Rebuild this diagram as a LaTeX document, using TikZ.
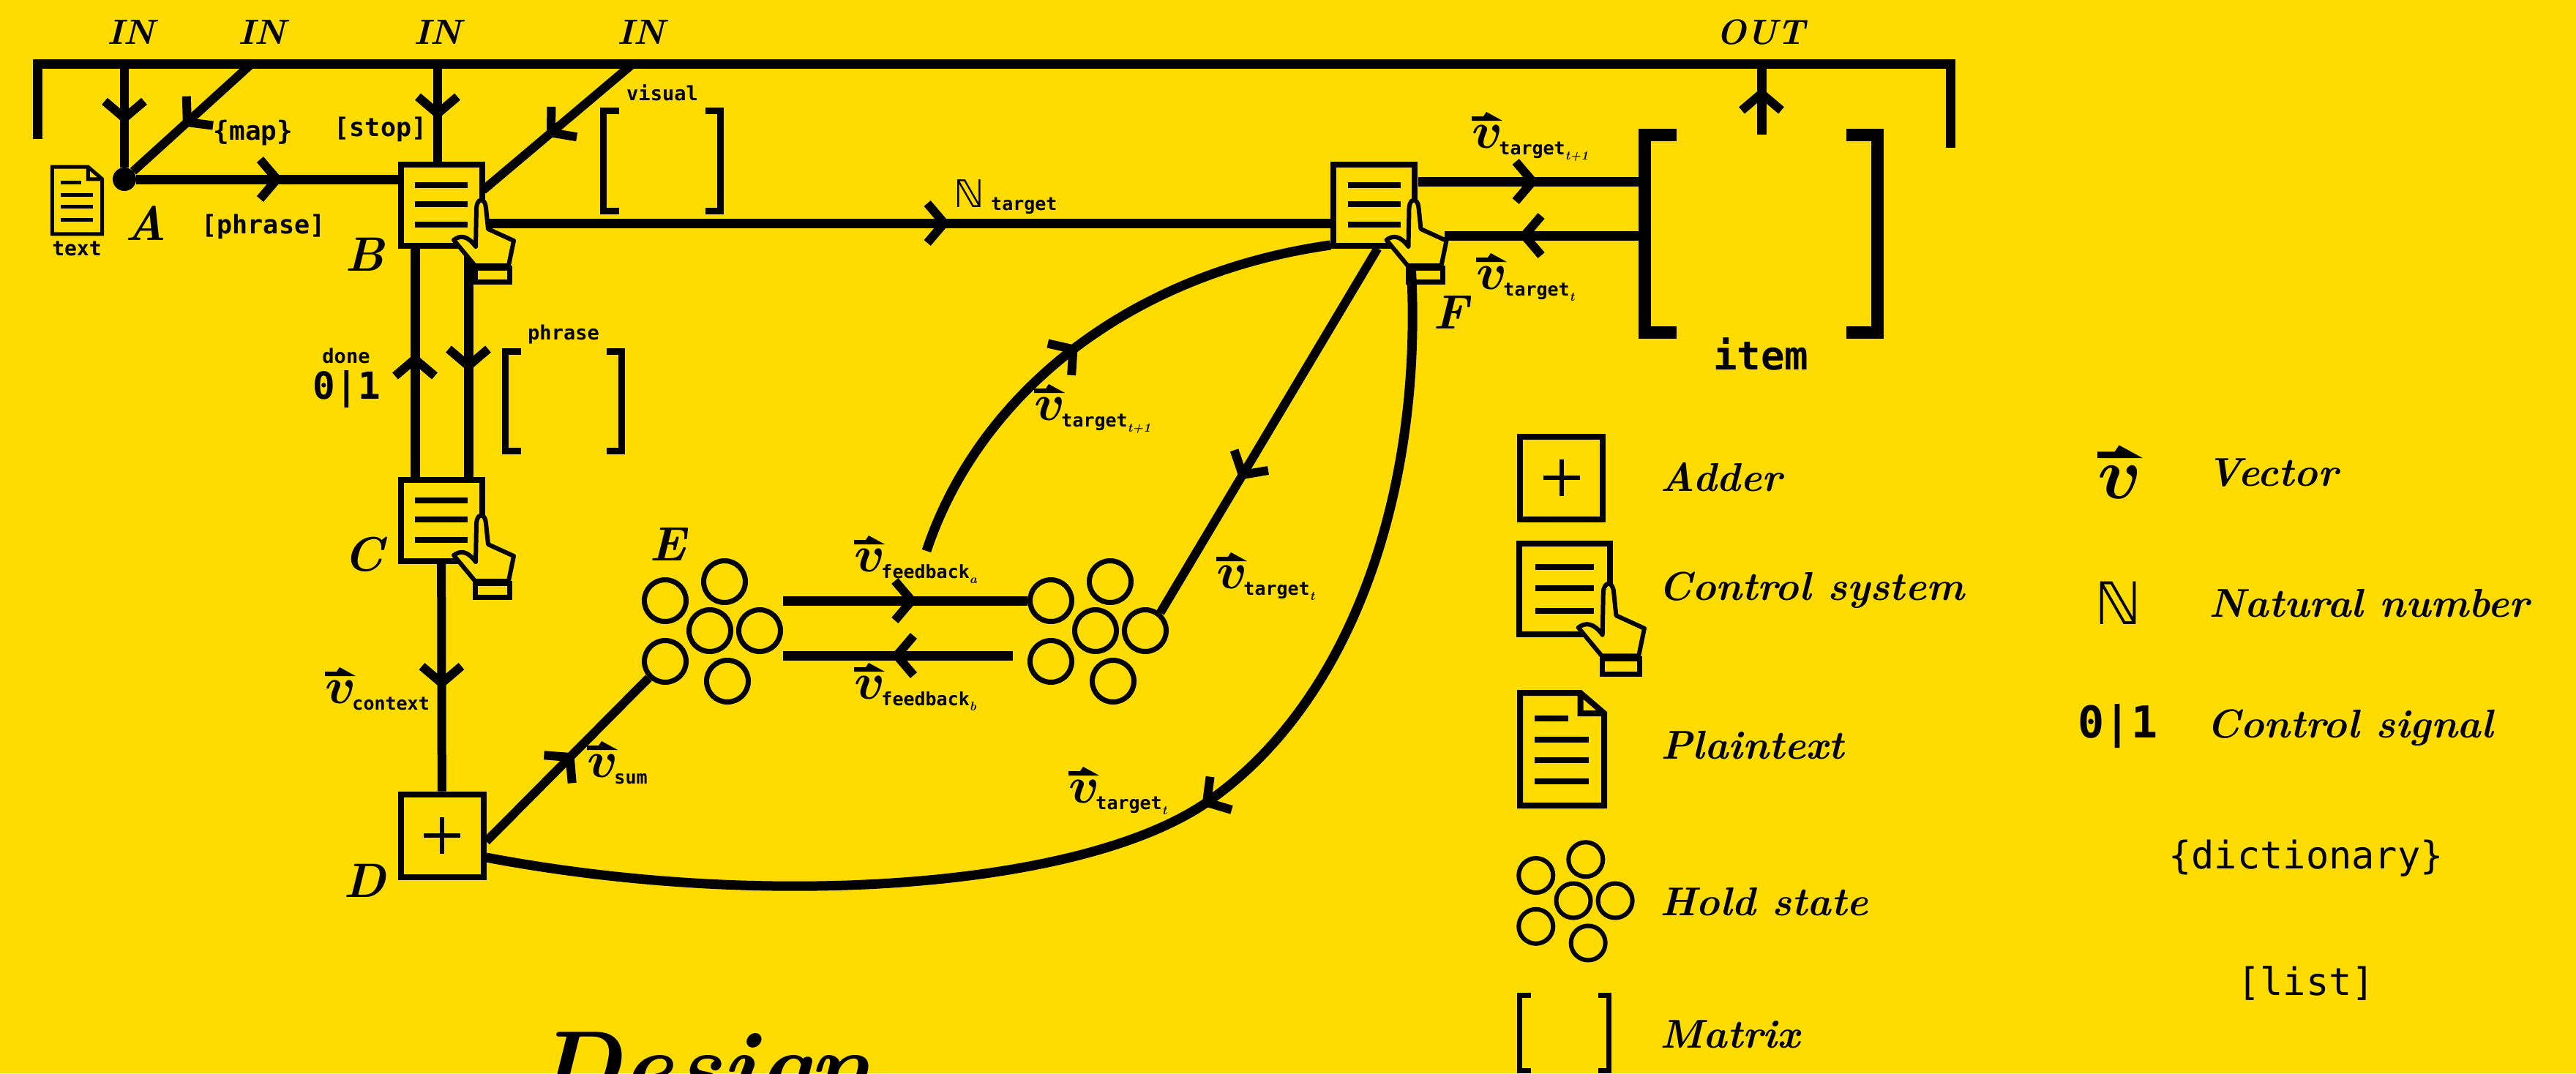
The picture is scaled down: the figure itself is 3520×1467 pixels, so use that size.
\documentclass[tikz,border=0pt]{standalone}
\usepackage{amsmath,amssymb}
\usepackage{fontspec}
\usepackage{xcolor}
\usepackage{tikz}
\usetikzlibrary{arrows.meta,decorations.markings}

\newfontfamily\monofont{DejaVu Sans Mono}
\newfontfamily\symfont{DejaVu Sans}
\definecolor{signyellow}{HTML}{FFDC00}

\newcommand{\vsym}[1]{\scalebox{#1}{$\boldsymbol{v}$}}
\newcommand{\vlabel}[2]{\vsym{7}\kern-5pt\raisebox{-9pt}{\fontsize{25}{25}\monofont\bfseries #1\raisebox{-7pt}{\fontsize{17}{17}\rmfamily\bfseries\itshape #2}}}
\newcommand{\matrixmark}[3]{\draw[line width=#3]
    ([xshift=#2]#1.north west) -- (#1.north west) -- (#1.south west) -- ([xshift=#2]#1.south west)
    ([xshift=-#2]#1.north east) -- (#1.north east) -- (#1.south east) -- ([xshift=-#2]#1.south east);}

\tikzset{
  mid/.style={postaction={decorate},decoration={markings,mark=at position #1 with
      {\arrow{Straight Barb[length=23pt,width=54pt,line width=12pt]}}}},
  wire/.style={line width=13pt},
  thinwire/.style={line width=12pt},
  heading/.style={font=\fontsize{48}{60}\selectfont\bfseries\itshape},
  letter/.style={font=\fontsize{66}{70}\selectfont\bfseries\itshape},
  legend/.style={anchor=base west,font=\fontsize{55}{60}\selectfont\bfseries\itshape},
  code/.style={font=\fontsize{#1}{#1}\selectfont\monofont\bfseries},
  plaincode/.style={font=\fontsize{#1}{#1}\selectfont\monofont},
  vtag/.style={anchor=base west,inner sep=0pt},
  ctrlbox/.style={rectangle,draw,line width=8pt,minimum size=#1},
  adder/.style={rectangle,draw,line width=8pt,minimum size=113pt,path picture={
      \draw[line width=6pt] ([xshift=-25pt]path picture bounding box.center) -- ([xshift=25pt]path picture bounding box.center)
        ([yshift=-25pt]path picture bounding box.center) -- ([yshift=25pt]path picture bounding box.center);}},
  cell/.style={circle,draw,line width=7pt,inner sep=0pt,minimum size=57pt},
  matrixframe/.style args={#1 by #2}{rectangle,inner sep=0pt,outer sep=0pt,minimum width=#1,minimum height=#2},
  pics/hand/.style={code={
      \draw[line width=8pt] (-36,-27) -- (36,-27) (-36,-1) -- (36,-1) (-36,27) -- (36,27);
      \draw[fill=signyellow,line width=6pt,line join=round] (46,83) -- (17,48)
        .. controls (26,41) and (36,42) .. (47,57) -- (48,4)
        .. controls (49,-10) and (60,-10) .. (61,4) -- (64,33) -- (99,49) -- (92,83) -- cycle;
      \draw[line width=7pt] (46.5,86.5) rectangle (93.5,105.5);}},
  pics/doc/.style={code={
      \draw (-57.5,-77) -- (25,-77) -- (57.5,-49) -- (57.5,77) -- (-57.5,77) -- cycle
        (25,-77) -- (25,-49) -- (57.5,-49);
      \draw (-37.5,-42) -- (8.5,-42) (-37.5,-13) -- (36.5,-13) (-37.5,15) -- (36.5,15) (-37.5,44) -- (36.5,44);}},
  pics/hold/.style={code={
      \node[cell] (-a) at (-61,-41) {};
      \node[cell] (-b) at (20,-67) {};
      \node[cell] (-c) at (0,0) {};
      \node[cell] (-d) at (68,0) {};
      \node[cell] (-e) at (-61,42) {};
      \node[cell] (-f) at (24,69) {};}},
  pics/vbar/.style={code={
      \fill (0,-43) -- (16,-43) -- (20,-49) -- (42,-37) -- (0,-37) -- cycle;}},
}

\begin{document}
\begin{tikzpicture}[x=1pt,y=-1pt]
    \path[use as bounding box,fill=signyellow] (0,0) rectangle (3520,1467);

    \draw[wire] (51,190) -- (51,87.5) -- (2665,87.5) -- (2665,202);
    \foreach \n/\x in {ina/179,inb/358,inc/598,ind/876} {\node[heading] (\n) at (\x,44) {IN};}
    \node[heading] (outtag) at (2406,44) {OUT};
    \coordinate (framea) at (170,87);
    \coordinate (frameb) at (344,87);
    \coordinate (framec) at (598,87);
    \coordinate (framed) at (865,87);
    \coordinate (frameo) at (2407,87);

    \node[circle,fill,inner sep=0pt,minimum size=32pt] (A) at (170,245) {};
    \node[ctrlbox=111pt] (B) at (603,280) {};
    \node[ctrlbox=111pt] (C) at (603,711) {};
    \node[adder] (D) at (604,1142) {};
    \node[ctrlbox=111pt] (F) at (1877.5,280) {};
    \pic (ES) at (970,862) {hold};
    \pic (ER) at (1497,862) {hold};
    \node[matrixframe=160pt by 137pt] (visualm) at (904.5,220) {};
    \node[matrixframe=159pt by 136pt] (phrasem) at (770,548.5) {};
    \node[matrixframe=318pt by 270pt] (item) at (2406.5,319) {};
    \matrixmark{visualm}{21pt}{9pt}
    \matrixmark{phrasem}{21pt}{9pt}
    \matrixmark{item}{43pt}{17pt}

    \coordinate (bvisual) at (660,260);
    \coordinate (fbstart) at (1070,821);
    \coordinate (fbend) at (1384,896);
    \coordinate (fbcurve) at (1266,753);
    \coordinate (fout) at (1938,248);
    \coordinate (fin) at (1974,322);
    \coordinate (itemtop) at (2407,184);

    \draw[thinwire,mid=.58] (framea) -- (A);
    \draw[thinwire,mid=.58] (frameb) -- (A);
    \draw[wire,mid=.56] (A) -- (A -| B.west);
    \draw[thinwire,mid=.57] (framec) -- (framec |- B.north);
    \draw[thinwire,mid=.575] (framed) -- (bvisual);
    \draw[wire,mid=.55] ([yshift=-25pt]B.east) -- ([yshift=-25pt]F.west);
    \draw[wire,mid=.54] ([xshift=-36pt]C.north) -- ([xshift=-36pt]B.south);
    \draw[wire,mid=.54] ([xshift=37pt]B.south) -- ([xshift=37pt]C.north);
    \draw[thinwire,mid=.55] (C) -- (D);
    \draw[thinwire,mid=.54] ([yshift=-8pt]D.east) -- (ES-e.225);
    \draw[wire,mid=.55] (fbstart) -- (fbstart -| ER-a.west);
    \draw[wire,mid=.53] (fbend) -- (fbend -| ES-d.east);
    \draw[wire,mid=.485] (fbcurve) .. controls (1335,545) and (1535,375) .. ([yshift=-55pt]F.west);
    \draw[thinwire,mid=.635] ([xshift=5pt]F.south) -- (ER-d.50);
    \draw[wire,mid=.53] (fout) -- (fout -| item.west);
    \draw[wire,mid=.63] (fin -| item.west) -- (fin);
    \draw[wire,mid=.66] (itemtop) -- (frameo);
    \draw[wire,mid=.46] ([xshift=49pt]F.south) .. controls (1950,640) and (1860,950) .. (1650,1096)
        .. controls (1480,1214) and (1050,1245) .. ([yshift=-30pt]D.east);

    \pic at (B) {hand};
    \pic at (C) {hand};
    \pic at (F) {hand};
    \pic[line width=5pt] at (105.5,274) [scale=.595] {doc};

    \node[code=28] (texttag) at (105,340) {text};
    \node[code=27] (visualtag) at (905,127) {visual};
    \node[code=27] (phrasetag) at (770,457) {phrase};
    \node[code=36] (maptag) at (346,182) {\{map\}};
    \node[code=35] (stoptag) at (520,177) {[stop]};
    \node[code=35] (phraselist) at (360,310) {[phrase]};
    \node[code=27] (donetag) at (473,486) {done};
    \node[code=51] (bittag) at (474,532) {0|1};
    \node[code=54] (itemtag) at (2406,484) {item};
    \node[anchor=base west,inner sep=0pt,font=\fontsize{52}{52}\selectfont\symfont] (ntag) at (1303,283) {ℕ};
    \node[anchor=base west,inner sep=0pt,code=25] (ntarget) at (1354,287) {target};

    \node[letter] (labA) at (199,305) {A};
    \node[letter] (labB) at (498,348) {B};
    \node[letter] (labC) at (497,758) {C};
    \node[letter] (labD) at (498,1204) {D};
    \node[letter] (labE) at (912,744) {E};
    \node[letter] (labF) at (1982,427) {F};

    \node[vtag] (vnext) at (2011,202) {\vlabel{target}{t+1}};
    \node[vtag] (vback) at (2017,395) {\vlabel{target}{t}};
    \node[vtag] (vcurve) at (1413,574) {\vlabel{target}{t+1}};
    \node[vtag] (vdown) at (1662,804) {\vlabel{target}{t}};
    \node[vtag] (vfba) at (1167,781) {\vlabel{feedback}{a}};
    \node[vtag] (vfbb) at (1167,955) {\vlabel{feedback}{b}};
    \node[vtag] (vctx) at (444,961) {\vlabel{context}{}};
    \node[vtag] (vsum) at (802,1062) {\vlabel{sum}{}};
    \node[vtag] (vlow) at (1460,1097) {\vlabel{target}{t}};
    \foreach \n in {vnext,vback,vcurve,vdown,vfba,vfbb,vctx,vsum,vlow} {\pic at (\n.base west) {vbar};}

    \node[anchor=base west,inner sep=0pt,font=\fontsize{135}{140}\selectfont\bfseries\itshape] (design) at (730,1503) {Design};

    \node[adder] (ladder) at (2133.5,653) {};
    \node[legend] (tadder) at (2265,671) {Adder};
    \node[ctrlbox=124pt] (lctrl) at (2138,805) {};
    \pic at (lctrl) [scale=1.1] {hand};
    \node[legend] (tctrl) at (2263,820) {Control system};
    \pic[line width=8pt] at (2134.5,1024) {doc};
    \node[legend] (tdoc) at (2266,1037) {Plaintext};
    \pic (LS) at (2150,1231) [scale=.84,cell/.append style={line width=6pt,minimum size=47pt}] {hold};
    \node[legend] (thold) at (2265,1251) {Hold state};
    \node[matrixframe=122pt by 103pt] (lmatrix) at (2137.5,1412) {};
    \matrixmark{lmatrix}{15pt}{7pt}
    \node[legend] (tmatrix) at (2265,1432) {Matrix};

    \node[vtag] (lvec) at (2866,681) {\vsym{10}};
    \pic at (lvec.base west) [scale=1.48] {vbar};
    \node[legend] (tvec) at (3012,664) {Vector};
    \node[font=\fontsize{80}{80}\selectfont\symfont] (lnat) at (2894,824) {ℕ};
    \node[legend] (tnat) at (3015,843) {Natural number};
    \node[code=60] (lbit) at (2894,993) {0|1};
    \node[legend] (tbit) at (3012,1008) {Control signal};
    \node[plaincode=52] (ldict) at (3151,1173) {\{dictionary\}};
    \node[plaincode=52] (llist) at (3151,1344) {[list]};
\end{tikzpicture}
\end{document}
